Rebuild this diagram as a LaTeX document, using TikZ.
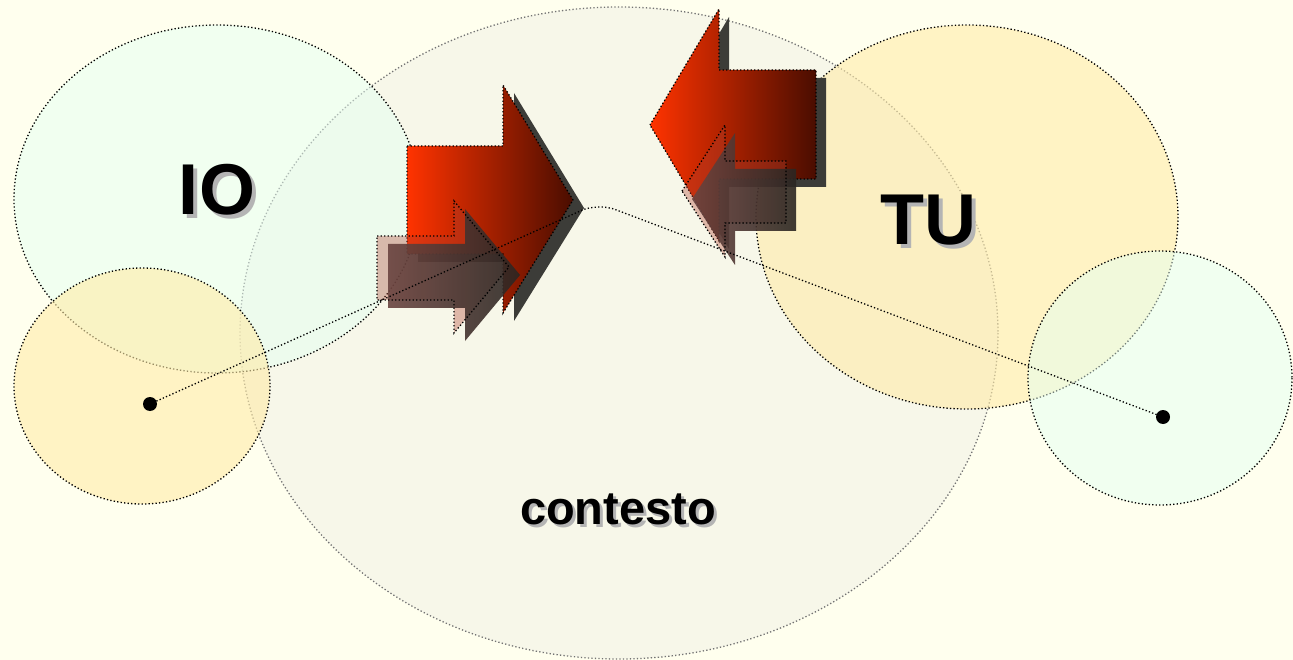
\documentclass[tikz,border=0pt]{standalone}
\usepackage{fontspec}
\setmainfont{Liberation Sans}
\definecolor{bgcol}{HTML}{FFFFEE}
\definecolor{ctxcol}{HTML}{F3F3E7}
\definecolor{mintcol}{HTML}{E5FFF2}
\definecolor{yelcol}{HTML}{FFEBA8}
\definecolor{tucol}{HTML}{FFEBA8}
\definecolor{redA}{HTML}{FF3300}
\definecolor{redB}{HTML}{4A0D00}
\definecolor{shadowcol}{HTML}{3C3C38}
\definecolor{pinkcol}{HTML}{B04030}
\definecolor{brA}{HTML}{6A4440}
\definecolor{brB}{HTML}{2A2622}
\definecolor{txtshadow}{HTML}{B4B4B4}
\tikzset{
  dotline/.style={line width=1.3pt, dash pattern=on 1.3pt off 2.2pt},
  blob/.style={dotline, draw=black, fill opacity=#1},
  bigarrow/.style={left color=redA, right color=redB, draw=black, dotline},
  bigshadow/.style={fill=shadowcol},
  smallshadow/.style={left color=brA, right color=brB, fill opacity=0.9},
  smallfill/.style={fill=pinkcol, fill opacity=0.35},
  smalledge/.style={draw=black, dotline},
  bigtxt/.style={font=\bfseries\fontsize{72}{72}\selectfont, anchor=base, inner sep=0pt},
  ctxtxt/.style={font=\bfseries\fontsize{47}{47}\selectfont, anchor=base, inner sep=0pt},
  spot/.style={circle, fill=black, inner sep=0pt, minimum size=14pt}
}
\begin{document}
\begin{tikzpicture}[x=1pt,y=-1pt]
\useasboundingbox (0,0) rectangle (1293,660);
\fill[bgcol] (0,0) rectangle (1293,660);
% ellipses
\path[blob=0.6, fill=ctxcol, draw=black!55] (619,333) ellipse [x radius=379, y radius=326];
\path[blob=0.5, fill=mintcol] (217,199) ellipse [x radius=203, y radius=174];
\path[blob=0.6, fill=yelcol] (142,386) ellipse [x radius=128, y radius=118];
\path[blob=0.6, fill=tucol] (967,217) ellipse [x radius=211, y radius=192];
\path[blob=0.5, fill=mintcol] (1160,378) ellipse [x radius=132, y radius=127];
% texts
\node[bigtxt, text=txtshadow] at (221,219) {IO};
\node[bigtxt] (io) at (217,215) {IO};
\node[bigtxt, text=txtshadow] at (932,249) {TU};
\node[bigtxt] (tu) at (928,245) {TU};
\node[ctxtxt, text=txtshadow] at (621,527) {contesto};
\node[ctxtxt] (ctx) at (618,524) {contesto};
% right-pointing arrows
\fill[bigshadow, shift={(11,8)}] (407,146) -- (503,146) -- (503,85) -- (573,200) -- (503,313) -- (503,254) -- (407,254) -- cycle;
\path[bigarrow] (407,146) -- (503,146) -- (503,85) -- (573,200) -- (503,313) -- (503,254) -- (407,254) -- cycle;
\path[smallfill] (377,236) -- (454,236) -- (454,201) -- (509,267) -- (454,333) -- (454,300) -- (377,300) -- cycle;
\path[smallshadow, shift={(11,8)}] (377,236) -- (454,236) -- (454,201) -- (509,267) -- (454,333) -- (454,300) -- (377,300) -- cycle;
\path[smalledge] (377,236) -- (454,236) -- (454,201) -- (509,267) -- (454,333) -- (454,300) -- (377,300) -- cycle;
% left-pointing arrows
\fill[bigshadow, shift={(10,8)}] (650,125) -- (719,9) -- (719,70) -- (816,70) -- (816,179) -- (719,179) -- (719,241) -- cycle;
\path[bigarrow] (650,125) -- (719,9) -- (719,70) -- (816,70) -- (816,179) -- (719,179) -- (719,241) -- cycle;
\path[smallfill] (682,191) -- (725,125) -- (725,161) -- (786,161) -- (786,223) -- (725,223) -- (725,257) -- cycle;
\path[smallshadow, shift={(10,8)}] (682,191) -- (725,125) -- (725,161) -- (786,161) -- (786,223) -- (725,223) -- (725,257) -- cycle;
\path[smalledge] (682,191) -- (725,125) -- (725,161) -- (786,161) -- (786,223) -- (725,223) -- (725,257) -- cycle;
% points and connector
\node[spot] (dotL) at (150,404) {};
\node[spot] (dotR) at (1163,417) {};
\coordinate (apex) at (598,203);
\draw[dotline, rounded corners=18pt] (dotL.center) -- (apex) -- (dotR.center);
\end{tikzpicture}
\end{document}
